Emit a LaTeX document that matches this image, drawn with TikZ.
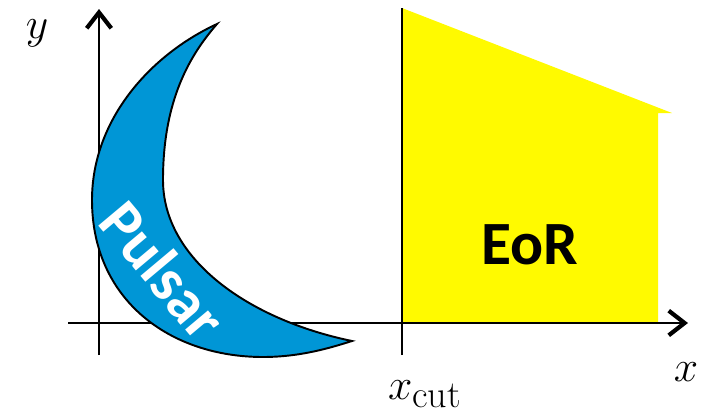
\documentclass[tikz,border=0pt]{standalone}
\usepackage{fontspec}
\setsansfont{Carlito}
\usetikzlibrary{arrows.meta}
\definecolor{pulsarblue}{RGB}{0,150,214}
\definecolor{eoryellow}{RGB}{255,250,0}
\tikzset{
  axisline/.style={line width=1.1pt, -{Straight Barb[length=9pt,width=14pt,line width=2.4pt]}},
  plainline/.style={line width=1.1pt},
  mathlabel/.style={font=\fontsize{31}{35}\selectfont, inner sep=0pt},
  boldlabel/.style={font=\sffamily\bfseries\fontsize{35}{40}\selectfont, inner sep=0pt}
}
\begin{document}
\begin{tikzpicture}[x=0.02cm,y=-0.02cm]
\useasboundingbox (0,0) rectangle (708,416);
% EoR region
\fill[eoryellow] (402,8) -- (672,113) -- (658,113) -- (658,323) -- (402,323) -- cycle;
% axes
\coordinate (xs) at (68,323);
\coordinate (xe) at (688,323);
\coordinate (ys) at (99,355);
\coordinate (ye) at (99,9);
\coordinate (cs) at (402,355);
\coordinate (ce) at (402,8);
\draw[axisline] (xs) -- (xe);
\draw[axisline] (ys) -- (ye);
\draw[plainline] (cs) -- (ce);
% crescent
\draw[fill=pulsarblue, line width=1.1pt, line join=miter]
  (217,24) .. controls (150,55) and (92,120) .. (92,200)
  .. controls (92,300) and (170,357) .. (263,357)
  .. controls (300,357) and (330,348) .. (352,341)
  .. controls (250,320) and (163,260) .. (163,180)
  .. controls (163,100) and (190,55) .. (217,24) -- cycle;
\node[boldlabel, text=white, rotate=-50] (pulsar) at (163,270) {Pulsar};
\node[boldlabel] (eor) at (530,245) {EoR};
\node[mathlabel] (ylab) at (37,33) {$y$};
\node[mathlabel] (xlab) at (686,372) {$x$};
\node[mathlabel, anchor=north] (xcut) at (425,380) {$x_{\mathrm{cut}}$};
\end{tikzpicture}
\end{document}
